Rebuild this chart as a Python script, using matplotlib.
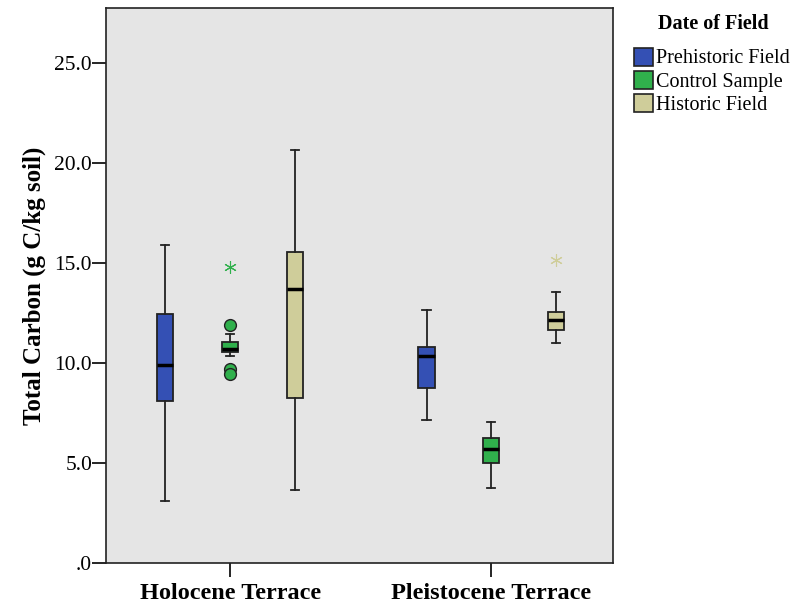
import matplotlib
matplotlib.use("Agg")
import matplotlib.pyplot as plt
from matplotlib.patches import Patch

plt.rcParams['font.family'] = ['Liberation Serif', 'DejaVu Serif']

terraces = ["Holocene Terrace", "Pleistocene Terrace"]
groups = ["Prehistoric Field", "Control Sample", "Historic Field"]
colors = ["#3450b4", "#30b04c", "#cfcd9a"]

# box stats per terrace, per group: (whislo, q1, med, q3, whishi)
hol_stats = [(3.09, 8.10, 9.93, 12.46, 15.92),
             (10.38, 10.54, 10.71, 11.06, 11.48),
             (3.64, 8.25, 13.71, 15.57, 20.67)]
ple_stats = [(7.17, 8.77, 10.35, 10.79, 12.67),
             (3.75, 5.00, 5.70, 6.27, 7.04),
             (11.03, 11.68, 12.13, 12.54, 13.56)]
# outliers (circles) and extremes (stars)
hol_outliers = [[], [11.89, 9.71, 9.46], []]
hol_extremes = [[], [14.79], []]
ple_outliers = [[], [], []]
ple_extremes = [[], [], [15.13]]

fig = plt.figure(figsize=(8.03, 6.08), dpi=100)
ax = fig.add_axes([0.1320, 0.0735, 0.6314, 0.9133])
ax.set_facecolor("#e5e5e5")

offsets = [-0.248, 0.0, 0.248]
box_w = 0.062
for ti, (stats, outl, extr) in enumerate([(hol_stats, hol_outliers, hol_extremes),
                                           (ple_stats, ple_outliers, ple_extremes)]):
    for gi in range(3):
        lo, q1, med, q3, hi = stats[gi]
        pos = ti + 1 + offsets[gi]
        bs = [dict(whislo=lo, q1=q1, med=med, q3=q3, whishi=hi, fliers=[])]
        ax.bxp(bs, positions=[pos], widths=box_w, patch_artist=True,
               showfliers=False,
               boxprops=dict(facecolor=colors[gi], edgecolor="#222222", linewidth=1.3),
               medianprops=dict(color="black", linewidth=2.5),
               whiskerprops=dict(color="#222222", linewidth=1.3),
               capprops=dict(color="#222222", linewidth=1.3),
               capwidths=box_w * 0.5)
        if outl[gi]:
            ax.plot([pos] * len(outl[gi]), outl[gi], 'o', ms=8.5,
                    mfc=colors[gi], mec="#222222", mew=1.0, zorder=4)
        if extr[gi]:
            ax.plot([pos] * len(extr[gi]), extr[gi], marker=(6, 2, 0), ls='none',
                    ms=9, mec=colors[gi], mew=0.8, zorder=4)

ax.set_xlim(0.525, 2.466)
ax.set_ylim(0, 27.74)
ax.set_yticks([0, 5, 10, 15, 20, 25])
ax.set_yticklabels([".0", "5.0", "10.0", "15.0", "20.0", "25.0"], fontsize=15.5)
ax.set_xticks([1, 2])
ax.set_xticklabels(terraces, fontsize=17.5, fontweight="bold")
ax.tick_params(axis='y', length=10, width=1.2, pad=0)
ax.tick_params(axis='x', length=10, width=1.2, pad=4)
ax.set_ylabel("Total Carbon (g C/kg soil)", fontsize=18, fontweight="bold", labelpad=6)
for s in ax.spines.values():
    s.set_linewidth(1.2)
    s.set_color("#222222")

# legend, title drawn separately to get the wider gap under it
fig.text(0.888, 0.960, "Date of Field", ha="center", va="center",
         fontsize=14.5, fontweight="bold")
handles = [Patch(facecolor=c, edgecolor="#222222", linewidth=1.2, label=g)
           for c, g in zip(colors, groups)]
leg = fig.legend(handles=handles, loc="upper left",
                 bbox_to_anchor=(0.779, 0.935), frameon=False, fontsize=14.5,
                 handlelength=0.95, handleheight=1.0, handletextpad=0.15,
                 labelspacing=0.12, borderaxespad=0)

fig.savefig("out.png", dpi=100)
